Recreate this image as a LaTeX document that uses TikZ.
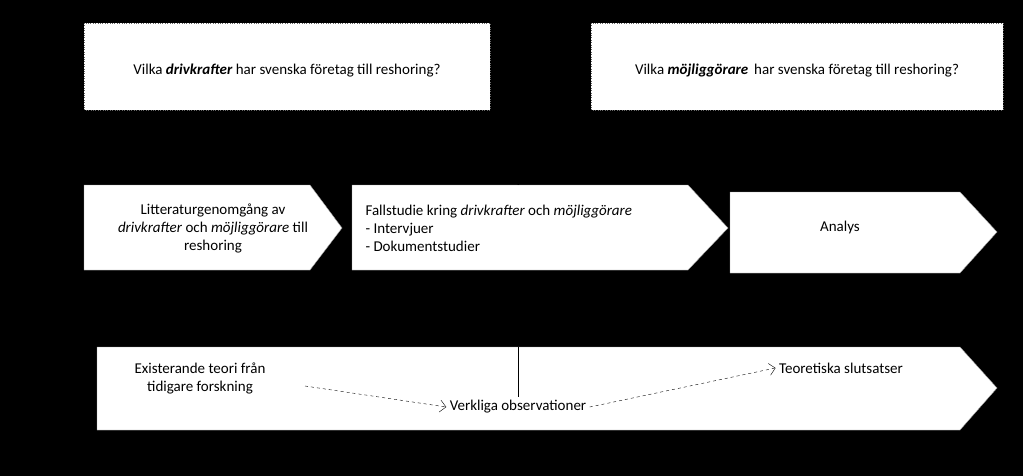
\documentclass[tikz,border=0pt]{standalone}
\usepackage{fontspec}
\setmainfont{Carlito}
\usetikzlibrary{arrows.meta}
\begin{document}
\begin{tikzpicture}[x=1pt,y=-1pt,
  qbox/.style={draw=black!60,dotted,fill=white},
  shp/.style={fill=white,draw=black!40},
  txt/.style={font=\fontsize{15}{18}\selectfont,align=center},
  dash/.style={}]
\fill[black] (0,0) rectangle (1023,476);
\useasboundingbox (0,0) rectangle (1023,476);
% top question boxes
\draw[qbox] (84,23) rectangle (490,110);
\node[txt] (q1) at (287,71) {Vilka \textbf{\textit{drivkrafter}} har svenska företag till reshoring?};
\draw[qbox] (591,23) rectangle (1003,110);
\node[txt] (q2) at (797,71) {Vilka \textbf{\textit{möjliggörare}}\, har svenska företag till reshoring?};
% arrow from case study up
\coordinate (up) at (518,110);
\coordinate (cs) at (518,185);
% chevrons
\draw[shp] (84,185) -- (310,185) -- (342,228) -- (310,270) -- (84,270) -- cycle;
\node[txt] (c1) at (213,228) {Litteraturgenomgång av\\\textit{drivkrafter} och \textit{möjliggörare} till\\reshoring};
\draw[shp] (352,185) -- (688,185) -- (728,228) -- (688,270) -- (352,270) -- cycle;
\node[txt,align=left,anchor=west] (c2) at (362,228) {Fallstudie kring \textit{drivkrafter} och \textit{möjliggörare}\\- Intervjuer\\- Dokumentstudier};
\draw[shp] (730,192) -- (960,192) -- (997,232) -- (960,273) -- (730,273) -- cycle;
\node[txt] (c3) at (840,228) {Analys};
\draw[-{Straight Barb[length=5pt]}] (518,120) -- (cs);
% bottom
\draw[shp] (97,347) -- (960,347) -- (997,388) -- (960,430) -- (97,430) -- cycle;
\node[txt] (e) at (200,378) {Existerande teori från\\tidigare forskning};
\node[txt] (v) at (518,407) {Verkliga observationer};
\node[txt] (t) at (841,368) {Teoretiska slutsatser};
\coordinate (vt) at (518,347);
\draw (vt) -- (v.north);
\draw[dashed,-{Straight Barb[length=6pt]}] (305,386) -- (v.west);
\draw[dashed,-{Straight Barb[length=6pt]}] (v.east) -- (t.west);
\end{tikzpicture}
\end{document}
